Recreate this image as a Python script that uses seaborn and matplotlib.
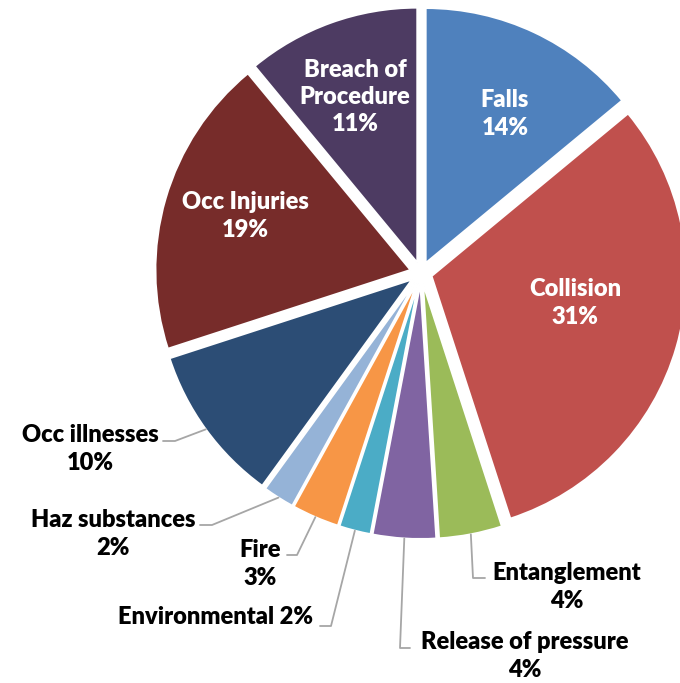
import numpy as np
import matplotlib.pyplot as plt
import seaborn as sns

# slices, clockwise from 12 o'clock
categories = ['Falls', 'Collision', 'Entanglement', 'Release of pressure', 'Environmental',
              'Fire', 'Haz substances', 'Occ illnesses', 'Occ Injuries', 'Breach of Procedure']
shares = [14, 31, 4, 4, 2, 3, 2, 10, 19, 11]
slice_colors = ['#4F81BD', '#C0504D', '#9BBB59', '#8064A2', '#4BACC6',
                '#F79646', '#95B3D7', '#2C4D75', '#772C2A', '#4D3B62']

sns.set_theme(style='white')
plt.rcParams['font.family'] = ['Lato', 'DejaVu Sans']

fig = plt.figure(figsize=(6.8, 6.83), dpi=100)
ax = fig.add_axes([0, 0, 1, 1])
H = 683
cx, cy, R = 421, H - 273, 255
gap = 11  # explode is in data units here
wedges, _ = ax.pie(shares, colors=slice_colors, startangle=90, counterclock=False,
                   explode=[gap] * len(shares), radius=R, center=(cx, cy),
                   wedgeprops=dict(linewidth=1.4, edgecolor='white'))
ax.set_xlim(0, 680)
ax.set_ylim(0, H)
ax.set_aspect('equal')
ax.axis('off')

fs = 17

# labels inside the big slices (pixel positions from top-left)
inside = {
    'Falls': (505, 114, 'Falls\n14%'),
    'Collision': (575, 303, 'Collision\n31%'),
    'Occ Injuries': (245, 216, 'Occ Injuries\n19%'),
    'Breach of Procedure': (355, 97, 'Breach of\nProcedure\n11%'),
}
for name, (x, y, txt) in inside.items():
    ax.text(x, H - y, txt, ha='center', va='center', color='white',
            fontsize=fs, fontweight='heavy', linespacing=1.3)

# outside labels with elbow leader lines: text pos, elbow start, elbow end
outside = {
    'Occ illnesses': ((90, 449), (163, 441), (175, 441), 'Occ illnesses\n10%'),
    'Haz substances': ((113, 534), (200, 525), (212, 525), 'Haz substances\n2%'),
    'Fire': ((260, 564), (287, 555), (297, 555), 'Fire\n3%'),
    'Environmental': ((215, 617), (320, 626), (331, 626), 'Environmental 2%'),
    'Entanglement': ((567, 587), (485, 578), (473, 578), 'Entanglement\n4%'),
    'Release of pressure': ((525, 656), (410, 648), (400, 648), 'Release of pressure\n4%'),
}
for name, (tpos, p0, p1, txt) in outside.items():
    w = wedges[categories.index(name)]
    mid = np.deg2rad((w.theta1 + w.theta2) / 2)
    r_edge = R + gap
    ex, ey = cx + r_edge * np.cos(mid), cy + r_edge * np.sin(mid)
    ax.plot([p0[0], p1[0], ex], [H - p0[1], H - p1[1], ey], color='#A6A6A6', lw=1.3)
    ax.text(tpos[0], H - tpos[1], txt, ha='center', va='center', color='black',
            fontsize=fs, fontweight='heavy', linespacing=1.3)

fig.savefig('out.png', dpi=100)
